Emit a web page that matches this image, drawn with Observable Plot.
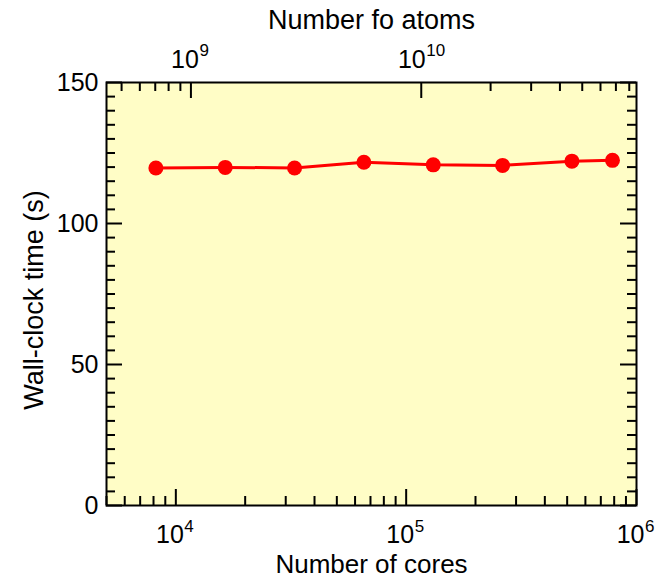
<!DOCTYPE html>
<html><head><meta charset="utf-8">
<script src="https://cdn.jsdelivr.net/npm/d3@7"></script>
<script src="https://cdn.jsdelivr.net/npm/@observablehq/plot@0.6"></script>
<style>html,body{margin:0;padding:0;background:#fff;overflow:hidden}</style>
</head><body><div id="chart"></div>
<script>
// Data
const cores = [8192, 16384, 32768, 65536, 131072, 262144, 524288, 786432];
const wallTime = [119.7, 119.9, 119.7, 121.7, 120.8, 120.6, 122.1, 122.4];
const atomsPerCore = 86000;

// Tick values
const xMajor = [1e4, 1e5, 1e6];
const xMajorExp = ["4", "5", "6"];
const xMinor = [5000, 6000, 7000, 8000, 9000, 2e4, 3e4, 4e4, 5e4, 6e4, 7e4, 8e4, 9e4, 2e5, 3e5, 4e5, 5e5, 6e5, 7e5, 8e5, 9e5];
const atomMajor1 = [1e9];
const atomMajor1Exp = ["9"];
const atomMajor2 = [1e10];
const atomMajor2Exp = ["10"];
const atomMinor = [5e8, 6e8, 7e8, 8e8, 9e8, 2e10, 3e10, 4e10, 5e10, 6e10, 7e10, 8e10];
const yMajor = [0, 50, 100, 150];
const yMinor = [5,10,15,20,25,30,35,40,45,55,60,65,70,75,80,85,90,95,105,110,115,120,125,130,135,140,145];

const data = cores.map((c, i) => ({cores: c, time: wallTime[i]}));

const W = 664, H = 578;
const mL = 106, mR = 28, mT = 82, mB = 73;
const fw = W - mL - mR, fh = H - mT - mB;
const minorLen = 9, majorLen = 16;
const font = "'Liberation Sans', Arial, Helvetica, sans-serif";

const chart = Plot.plot({
  width: W, height: H,
  marginLeft: mL, marginRight: mR, marginTop: mT, marginBottom: mB,
  style: {fontFamily: font, background: "#fff", color: "#000"},
  x: {type: "log", domain: [5000, 1e6], axis: null},
  y: {domain: [0, 150], axis: null},
  marks: [
    Plot.frame({fill: "#fffdc6", stroke: null}),
    // y ticks left & right (inward)
    Plot.tickY(yMinor, {y: d => d, insetRight: fw - minorLen, stroke: "#000", strokeWidth: 2}),
    Plot.tickY(yMajor, {y: d => d, insetRight: fw - majorLen, stroke: "#000", strokeWidth: 2}),
    Plot.tickY(yMinor, {y: d => d, insetLeft: fw - minorLen, stroke: "#000", strokeWidth: 2}),
    Plot.tickY(yMajor, {y: d => d, insetLeft: fw - majorLen, stroke: "#000", strokeWidth: 2}),
    // x ticks bottom (cores)
    Plot.tickX(xMinor, {x: d => d, insetTop: fh - minorLen, stroke: "#000", strokeWidth: 2}),
    Plot.tickX(xMajor, {x: d => d, insetTop: fh - majorLen, stroke: "#000", strokeWidth: 2}),
    // x ticks top (atoms)
    Plot.tickX(atomMinor, {x: d => d / atomsPerCore, insetBottom: fh - minorLen, stroke: "#000", strokeWidth: 2}),
    Plot.tickX(atomMajor1.concat(atomMajor2), {x: d => d / atomsPerCore, insetBottom: fh - majorLen, stroke: "#000", strokeWidth: 2}),
    // data
    Plot.line(data, {x: "cores", y: "time", stroke: "#ff0000", strokeWidth: 3}),
    Plot.dot(data, {x: "cores", y: "time", r: 7.5, fill: "#ff0000", stroke: null}),
    Plot.frame({stroke: "#000", strokeWidth: 2}),
    // y tick labels
    Plot.text(yMajor, {y: d => d, text: d => String(d), frameAnchor: "left", dx: -8, textAnchor: "end", lineAnchor: "middle", fontSize: 25, fill: "#000"}),
    // bottom tick labels 10^n
    Plot.text(xMajor, {x: d => d, text: () => "10", frameAnchor: "bottom", dy: 37, dx: 8, textAnchor: "end", lineAnchor: "bottom", fontSize: 25, fill: "#000"}),
    Plot.text(xMajor, {x: d => d, text: (d, i) => xMajorExp[i], frameAnchor: "bottom", dy: 26, dx: 8.5, textAnchor: "start", lineAnchor: "bottom", fontSize: 17, fill: "#000"}),
    // top tick labels
    Plot.text(atomMajor1, {x: d => d / atomsPerCore, text: () => "10", frameAnchor: "top", dy: -15, dx: 8, textAnchor: "end", lineAnchor: "bottom", fontSize: 25, fill: "#000"}),
    Plot.text(atomMajor1, {x: d => d / atomsPerCore, text: (d, i) => atomMajor1Exp[i], frameAnchor: "top", dy: -27, dx: 8.5, textAnchor: "start", lineAnchor: "bottom", fontSize: 17, fill: "#000"}),
    Plot.text(atomMajor2, {x: d => d / atomsPerCore, text: () => "10", frameAnchor: "top", dy: -15, dx: 4.5, textAnchor: "end", lineAnchor: "bottom", fontSize: 25, fill: "#000"}),
    Plot.text(atomMajor2, {x: d => d / atomsPerCore, text: (d, i) => atomMajor2Exp[i], frameAnchor: "top", dy: -27, dx: 5, textAnchor: "start", lineAnchor: "bottom", fontSize: 17, fill: "#000"}),
    // axis titles
    Plot.text(["Number of cores"], {text: d => d, frameAnchor: "bottom", dy: 67, textAnchor: "middle", lineAnchor: "bottom", fontSize: 26, fill: "#000"}),
    Plot.text(["Number fo atoms"], {text: d => d, frameAnchor: "top", dy: -54, textAnchor: "middle", lineAnchor: "bottom", fontSize: 27, fill: "#000"}),
    Plot.text(["Wall-clock time (s)"], {text: d => d, frameAnchor: "left", dx: -64, dy: 6, rotate: -90, textAnchor: "middle", lineAnchor: "bottom", fontSize: 27, fill: "#000"})
  ]
});
document.getElementById("chart").appendChild(chart);
</script>
</body></html>
